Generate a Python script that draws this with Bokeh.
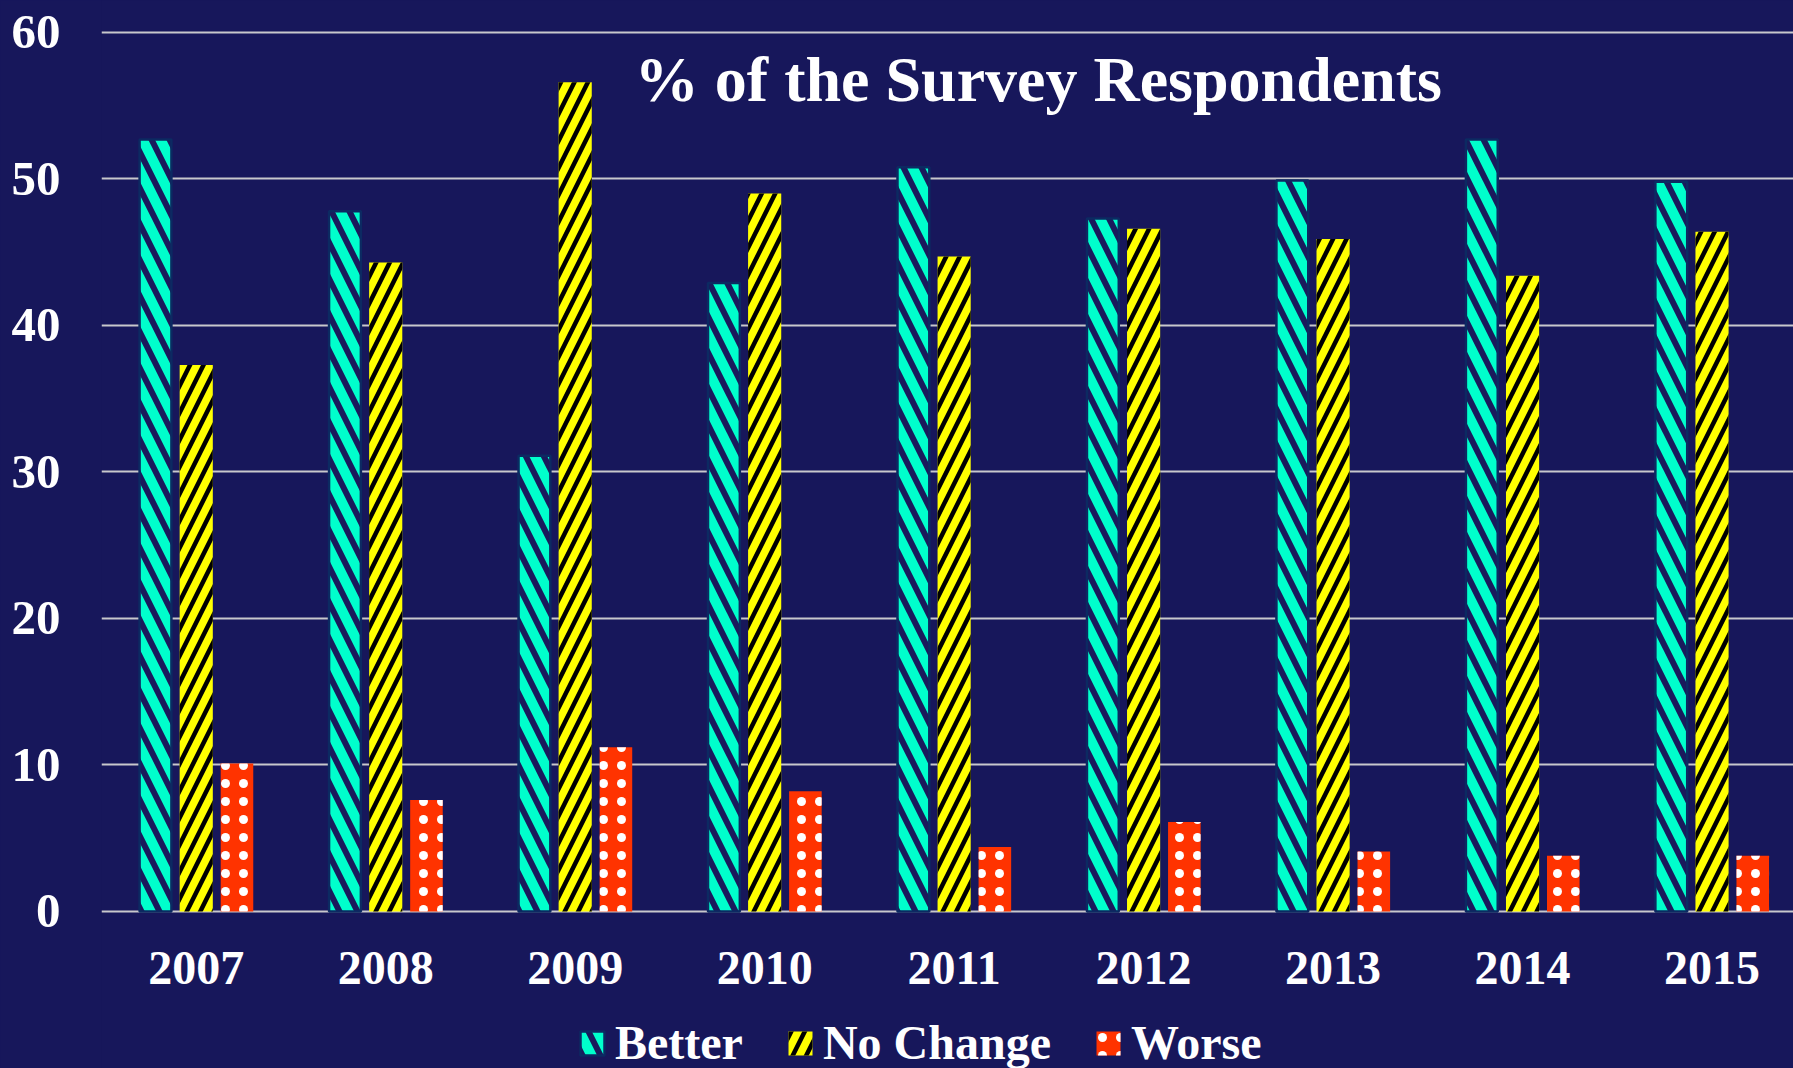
from bokeh.plotting import figure
from bokeh.models import (ColumnDataSource, FixedTicker, Label, Legend, LegendItem,
                          GlobalInlineStyleSheet, Range1d)
from bokeh.core.properties import value
from bokeh.transform import dodge
from bokeh.embed import file_html
from bokeh.resources import INLINE

# ---------------- data ----------------
years = ["2007", "2008", "2009", "2010", "2011", "2012", "2013", "2014", "2015"]
better = [52.7, 47.8, 31.1, 42.9, 50.8, 47.3, 49.9, 52.7, 49.8]
no_change = [37.3, 44.3, 56.6, 49.0, 44.7, 46.6, 45.9, 43.4, 46.4]
worse = [10.1, 7.6, 11.2, 8.2, 4.4, 6.1, 4.1, 3.8, 3.8]
y_ticks = [0, 10, 20, 30, 40, 50, 60]
series_names = ["Better", "No Change", "Worse"]
chart_title = "% of the Survey Respondents"

# ---------------- style ----------------
BG = "#17175B"
FONT = "Liberation Serif"

xs = list(range(len(years)))
src = ColumnDataSource(dict(x=xs, years=years, better=better,
                            no_change=no_change, worse=worse))

p = figure(width=1793, height=1068, output_backend="svg", toolbar_location=None,
           x_range=Range1d(-0.5, 8.43), y_range=Range1d(-10.72, 62.18),
           min_border_left=101, min_border_right=0, min_border_top=0,
           min_border_bottom=0)
p.stylesheets = [GlobalInlineStyleSheet(css="html, body { background-color: %s; }" % BG)]
p.background_fill_color = BG
p.border_fill_color = BG
p.outline_line_color = None

bw = 0.168
off = 0.215
r_better = p.vbar(x=dodge("x", -off, range=p.x_range), top="better", bottom=0, width=bw,
                  source=src, fill_color="#00FFCC", line_color="#0C2A62", line_width=2.5,
                  hatch_pattern="\\", hatch_color="#1A1A5C", hatch_weight=6, hatch_scale=36)
r_nc = p.vbar(x=dodge("x", 0, range=p.x_range), top="no_change", bottom=0, width=0.175,
              source=src, fill_color="#FFFF00", line_color=None,
              hatch_pattern="/", hatch_color="#000000", hatch_weight=4.5, hatch_scale=27)
r_worse = p.vbar(x=dodge("x", off, range=p.x_range), top="worse", bottom=0, width=0.172,
                 source=src, fill_color="#FF3300", line_color=None,
                 hatch_pattern=".", hatch_color="#FFFFFF", hatch_weight=6, hatch_scale=18)

# grid
p.xgrid.grid_line_color = None
p.ygrid.grid_line_color = "#C8C8CC"
p.ygrid.grid_line_width = 2
p.ygrid.ticker = FixedTicker(ticks=y_ticks)

# y axis
p.yaxis.ticker = FixedTicker(ticks=y_ticks)
p.yaxis.axis_line_color = None
p.yaxis.major_tick_line_color = None
p.yaxis.minor_tick_line_color = None
p.yaxis.major_label_standoff = 35
p.yaxis.major_label_text_font = FONT
p.yaxis.major_label_text_font_style = "bold"
p.yaxis.major_label_text_font_size = "49px"
p.yaxis.major_label_text_color = "#FFFFFF"

# x axis: category labels drawn as text under the baseline
p.xaxis.visible = False
p.text(x="x", y=-3.88, text="years", source=src, text_align="center",
       text_baseline="alphabetic", text_font=value(FONT), text_font_style="bold",
       text_font_size="48px", text_color="#FFFFFF")

# title inside the plot
p.add_layout(Label(x=4.445, y=56.8, text=chart_title, text_align="center",
                   text_baseline="alphabetic", text_font=FONT, text_font_style="bold",
                   text_font_size="64px", text_color="#FFFFFF"))

# legend at the bottom
legend = Legend(items=[LegendItem(label=series_names[0], renderers=[r_better]),
                       LegendItem(label=series_names[1], renderers=[r_nc]),
                       LegendItem(label=series_names[2], renderers=[r_worse])],
                orientation="horizontal", location=(476, -2),
                padding=0, margin=0, spacing=42, label_standoff=8,
                glyph_width=30, glyph_height=30,
                label_text_font=FONT, label_text_font_style="bold",
                label_text_font_size="48px", label_text_color="#FFFFFF",
                background_fill_alpha=0, border_line_alpha=0)
p.add_layout(legend, "center")

open("out.html", "w").write(file_html(p, INLINE))
